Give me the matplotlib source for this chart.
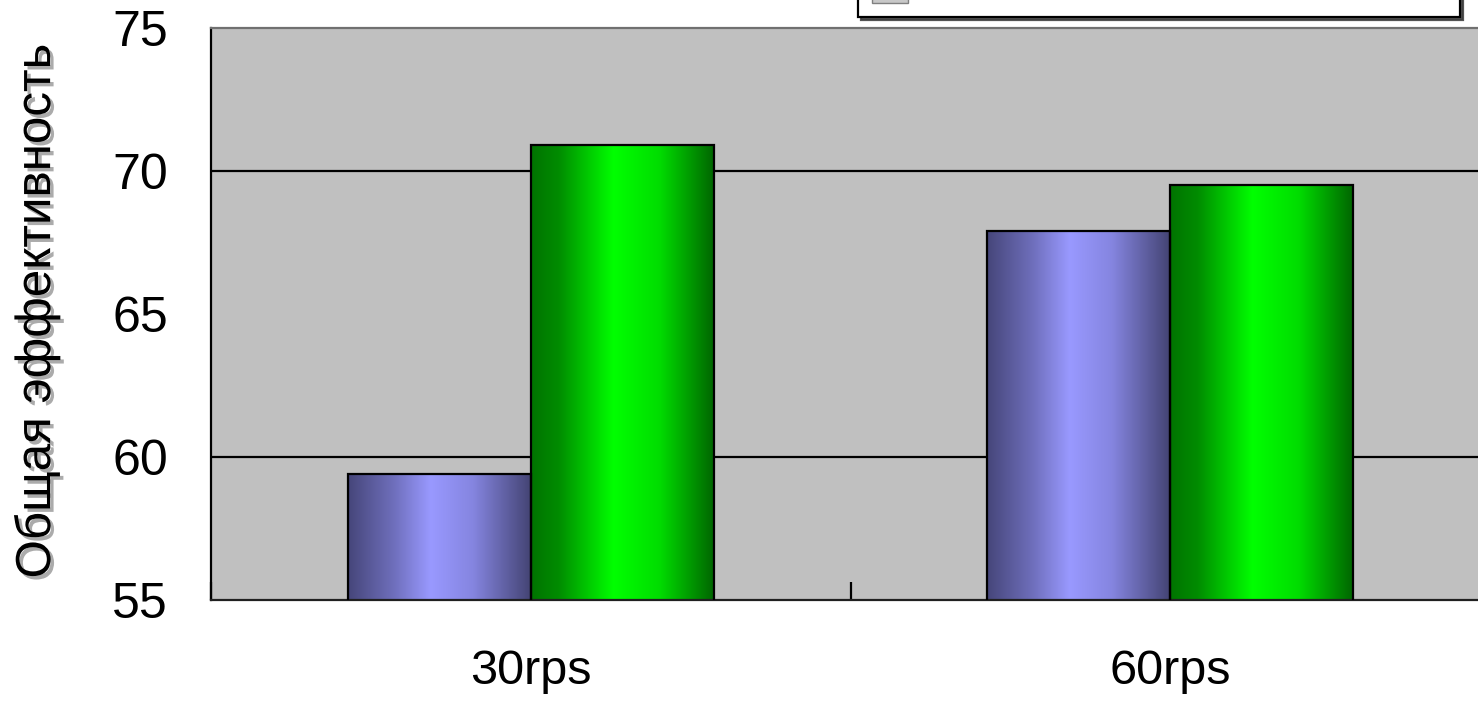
import numpy as np
import matplotlib
matplotlib.use("Agg")
import matplotlib.pyplot as plt
import matplotlib.patheffects as pe
from matplotlib.colors import LinearSegmentedColormap
from matplotlib.patches import Patch

# ---- data ----
categories = ["30rps", "60rps"]
series1 = [59.4, 67.9]
series2 = [70.9, 69.5]
y_major = [60, 70]          # gridlines
y_minor = [55, 65, 75]      # labelled without gridline
ylabel = "Общая эффективность"

plt.rcParams['font.family'] = ['Liberation Sans', 'DejaVu Sans']

W, H = 1478, 701
fig = plt.figure(figsize=(W / 100, H / 100), dpi=100, facecolor='white')

ax_l, ax_r, ax_t, ax_b = 211, 1490, 28, 600
ax = fig.add_axes([ax_l / W, 1 - ax_b / H, (ax_r - ax_l) / W, (ax_b - ax_t) / H])
ax.set_facecolor('#c0c0c0')

blue_cmap = LinearSegmentedColormap.from_list(
    'blue', [(0.0, '#46467a'), (0.25, '#6f6fbc'), (0.45, '#9999ff'),
             (0.68, '#8585e0'), (1.0, '#434372')])
green_cmap = LinearSegmentedColormap.from_list(
    'green', [(0.0, '#007400'), (0.15, '#008c00'), (0.45, '#00ff00'),
              (0.7, '#00dd00'), (1.0, '#006400')])

x = np.arange(len(categories))
w = 0.2864
bars1 = ax.bar(x - w / 2, series1, width=w, bottom=0, facecolor='none',
               edgecolor='black', linewidth=1.6, zorder=3)
bars2 = ax.bar(x + w / 2, series2, width=w, bottom=0, facecolor='none',
               edgecolor='black', linewidth=1.6, zorder=3)

ymin, ymax = 55, 75
grad = np.linspace(0, 1, 256).reshape(1, -1)
for bars, cmap in ((bars1, blue_cmap), (bars2, green_cmap)):
    for b in bars:
        x0 = b.get_x()
        x1 = x0 + b.get_width()
        top = b.get_height()
        im = ax.imshow(grad, cmap=cmap, aspect='auto',
                       extent=(x0, x1, ymin, top), zorder=2.5,
                       interpolation='bilinear')
        im.set_clip_path(b)

ax.set_xlim(-0.5, len(categories) - 0.5)
ax.set_ylim(ymin, ymax)

# y axis
ax.set_yticks(y_major)
ax.set_yticklabels([str(v) for v in y_major])
ax.set_yticks(y_minor, minor=True)
ax.set_yticklabels([str(v) for v in y_minor], minor=True)
ax.yaxis.grid(True, which='major', color='black', linewidth=1.6, zorder=1)
ax.set_axisbelow(True)
ax.tick_params(axis='y', which='both', length=0, pad=31, labelsize=36)

# x axis: separators at boundaries, labels at centres
ax.set_xticks(np.arange(len(categories) + 1) - 0.5)
ax.set_xticklabels([''] * (len(categories) + 1))
ax.set_xticks(x, minor=True)
ax.set_xticklabels(categories, minor=True)
ax.tick_params(axis='x', which='major', direction='in', length=13,
               width=1.6, color='black')
ax.tick_params(axis='x', which='minor', length=0, pad=35, labelsize=35)

for side, col in (('left', 'black'), ('bottom', '#202020'),
                  ('top', '#707070'), ('right', 'black')):
    ax.spines[side].set_color(col)
    ax.spines[side].set_linewidth(1.6)

ax.set_ylabel(ylabel, fontsize=35.5, va='center',
              path_effects=[pe.withSimplePatchShadow(offset=(2.5, -2.5),
                                                     shadow_rgbFace='#888888',
                                                     alpha=0.7)])
ax.yaxis.set_label_coords((37 - ax_l) / (ax_r - ax_l), (ax_b - 311) / (ax_b - ax_t))

# legend box (its entries lie above the visible area, so only the frame shows)
handles = [Patch(facecolor='#c8c8c8', edgecolor='#808080'),
           Patch(facecolor='#c8c8c8', edgecolor='#808080')]
leg = fig.legend(handles, ['', ''], loc='lower left',
                 bbox_to_anchor=(858 / W, 1 - 17 / H, 602 / W, 0.3),
                 mode='expand', ncol=1, fontsize=20, frameon=True,
                 fancybox=False, shadow={'color': '#404040', 'alpha': 0.9},
                 borderpad=0.5, handlelength=1.3, handleheight=3.2,
                 borderaxespad=0)
leg.get_frame().set_edgecolor('black')
leg.get_frame().set_linewidth(1.6)
leg.get_frame().set_facecolor('white')

fig.savefig('out.png', dpi=100, facecolor='white')
